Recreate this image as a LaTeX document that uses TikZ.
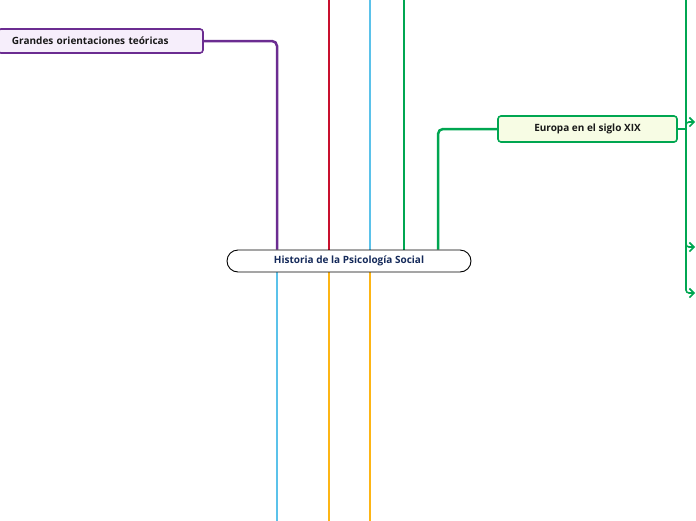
\documentclass[tikz,border=0pt]{standalone}
\usepackage{fontspec}
\setmainfont{Open Sans}
\usetikzlibrary{arrows.meta,backgrounds}
\definecolor{cpurple}{HTML}{6B2C91}
\definecolor{cpurplefill}{HTML}{F6EEFB}
\definecolor{cred}{HTML}{C8102E}
\definecolor{cblue}{HTML}{5BC2EA}
\definecolor{cgreen}{HTML}{00A651}
\definecolor{cgreenfill}{HTML}{F7FCE4}
\definecolor{corange}{HTML}{FDB515}
\definecolor{cnavy}{HTML}{152A5A}
\tikzset{
  conn/.style={line width=2.5pt, rounded corners=5pt},
  rootbox/.style={draw=black, line width=0.9pt, fill=white, rounded corners=11pt,
    minimum width=244pt, minimum height=22pt, inner sep=0pt,
    font=\fontsize{10}{12}\selectfont\bfseries, text=cnavy},
  childbox/.style={line width=1.6pt, rounded corners=3pt, inner sep=0pt,
    font=\fontsize{10}{12}\selectfont\bfseries, text=black!90},
  tip/.style={-{Straight Barb[length=4.5pt,width=9pt,line width=1.6pt]}}
}
\begin{document}
\begin{tikzpicture}[x=1pt,y=-1pt]
\useasboundingbox (0,0) rectangle (696,520);
% nodes
\node[rootbox] (root) at (349,261) {Historia de la Psicología Social};
\node[childbox, draw=cpurple, fill=cpurplefill, minimum width=205pt, minimum height=24pt,
  text width=177pt, align=left] (gr) at (100.5,41) {Grandes orientaciones teóricas};
\node[childbox, draw=cgreen, fill=cgreenfill, minimum width=179pt, minimum height=26pt] (eu) at (587.5,129) {Europa en el siglo XIX};
% coordinates
\coordinate (xp) at (277,0);
\coordinate (tr) at (329,-5);
\coordinate (tb) at (370,-5);
\coordinate (tg) at (404,-5);
\coordinate (xg) at (438,0);
\coordinate (bb) at (277,525);
\coordinate (bo1) at (329,525);
\coordinate (bo2) at (370,525);
\coordinate (hub) at (686,129);
\coordinate (htop) at (686,-5);
\coordinate (a1) at (695,122);
\coordinate (a2) at (695,247);
\coordinate (a3) at (695,293);
% connectors
\begin{scope}[on background layer]
\draw[conn, cpurple] (root.north -| xp) |- (gr.east);
\draw[conn, cred] (root.north -| tr) -- (tr);
\draw[conn, cblue] (root.north -| tb) -- (tb);
\draw[conn, cgreen] (root.north -| tg) -- (tg);
\draw[conn, cgreen] (root.north -| xg) |- (eu.west);
\draw[conn, cblue] (root.south -| bb) -- (bb);
\draw[conn, corange] (root.south -| bo1) -- (bo1);
\draw[conn, corange] (root.south -| bo2) -- (bo2);
\draw[conn, cgreen] (eu.east) -- (hub);
\draw[cgreen, line width=1.6pt] (hub) -- (htop);
\draw[cgreen, line width=1.6pt, rounded corners=3pt, tip] (hub) |- (a1);
\draw[cgreen, line width=1.6pt, rounded corners=3pt, tip] (hub) |- (a2);
\draw[cgreen, line width=1.6pt, rounded corners=3pt, tip] (hub) |- (a3);
\end{scope}
\end{tikzpicture}
\end{document}
